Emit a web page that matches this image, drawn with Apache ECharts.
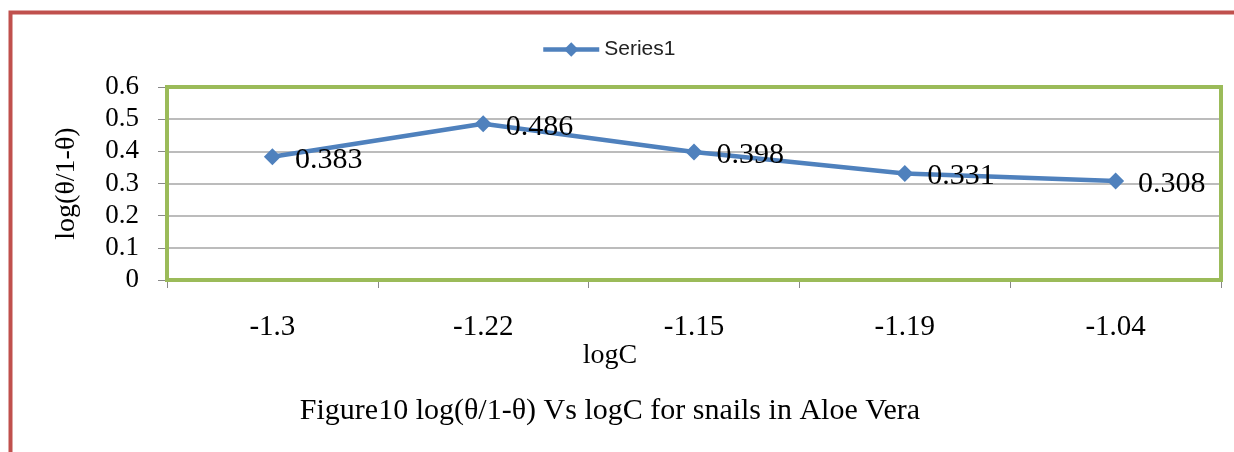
<!DOCTYPE html>
<html>
<head>
<meta charset="utf-8">
<script src="https://cdn.jsdelivr.net/npm/echarts@6/dist/echarts.min.js"></script>
<style>
  html, body { margin: 0; padding: 0; background: #fff; }
  #chart { width: 1234px; height: 452px; }
</style>
</head>
<body>
<div id="chart"></div>
<script>
// data
const categories = ["-1.3", "-1.22", "-1.15", "-1.19", "-1.04"];
const series1 = [0.383, 0.486, 0.398, 0.331, 0.308];
const yTicks = [0, 0.1, 0.2, 0.3, 0.4, 0.5, 0.6];

const serif = "Liberation Serif";
const chart = echarts.init(document.getElementById("chart"), null, { renderer: "canvas" });

const option = {
  backgroundColor: "#fff",
  animation: false,
  title: [
    {
      text: "logC",
      left: 605,
      top: 337,
      textAlign: "center",
      textStyle: { fontFamily: serif, fontSize: 28, fontWeight: "normal", color: "#000" },
    },
    {
      text: "Figure10 log(θ/1-θ) Vs logC for snails in Aloe Vera",
      left: 605,
      top: 391,
      textAlign: "center",
      textStyle: { fontFamily: serif, fontSize: 30, fontWeight: "normal", color: "#000" },
    },
  ],
  legend: {
    data: ["Series1"],
    left: 536,
    top: 34,
    itemWidth: 56,
    itemHeight: 18,
    itemGap: 5,
    lineStyle: { width: 4.5 },
    textStyle: { fontFamily: "Liberation Sans", fontSize: 21, color: "#222" },
  },
  graphic: [
    {
      type: "rect",
      shape: { x: 10.5, y: 12.5, width: 1300, height: 500 },
      style: { fill: null, stroke: "#C0504D", lineWidth: 4 },
      silent: true,
    },
  ],
  grid: {
    left: 167,
    right: 13,
    top: 87,
    bottom: 172,
    show: true,
    borderColor: "#9BBB59",
    borderWidth: 4,
    z: 3,
  },
  xAxis: {
    type: "category",
    data: categories,
    boundaryGap: true,
    axisLine: { show: false },
    axisTick: { show: true, length: 8, lineStyle: { color: "#888", width: 1 } },
    axisLabel: { margin: 33, fontFamily: serif, fontSize: 29, color: "#000" },
  },
  yAxis: {
    type: "value",
    min: 0,
    max: 0.6,
    interval: 0.1,
    name: "log(θ/1-θ)",
    nameLocation: "middle",
    nameGap: 86,
    nameTextStyle: { fontFamily: serif, fontSize: 28, color: "#000" },
    axisLine: { show: false },
    axisTick: { show: true, length: 9, lineStyle: { color: "#888", width: 1 } },
    splitLine: { show: true, lineStyle: { color: "#A6A6A6", width: 1.5 } },
    axisLabel: {
      margin: 28,
      fontFamily: serif,
      fontSize: 27,
      color: "#000",
      formatter: function (v) {
        const t = yTicks.find((x) => Math.abs(x - v) < 1e-9);
        return t === undefined ? "" : String(t);
      },
    },
  },
  series: [
    {
      name: "Series1",
      type: "line",
      data: series1,
      symbol: "diamond",
      symbolSize: 17,
      z: 5,
      lineStyle: { color: "#4F81BD", width: 4.5 },
      itemStyle: { color: "#4F81BD" },
      label: {
        show: true,
        position: "right",
        distance: 14,
        offset: [0, 3],
        fontFamily: serif,
        fontSize: 30,
        color: "#000",
        formatter: function (p) {
          return p.value.toFixed(3);
        },
      },
    },
  ],
};

chart.setOption(option);
</script>
</body>
</html>
